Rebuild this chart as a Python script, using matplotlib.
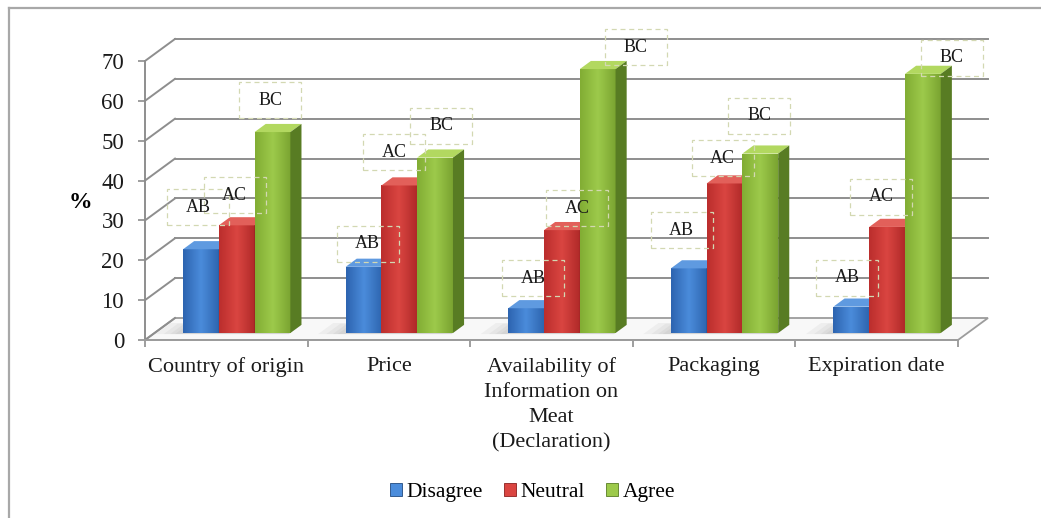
import matplotlib
matplotlib.use('Agg')
import matplotlib.pyplot as plt
from matplotlib.patches import Polygon, Rectangle, Patch
from matplotlib.lines import Line2D
from matplotlib.colors import LinearSegmentedColormap
import numpy as np

plt.rcParams['font.family'] = ['Liberation Serif', 'DejaVu Serif']

categories = ["Country of origin", "Price",
              "Availability of\nInformation on\nMeat\n(Declaration)",
              "Packaging", "Expiration date"]
series = ["Disagree", "Neutral", "Agree"]
disagree = [21.0, 16.6, 6.2, 16.2, 6.6]
neutral = [27.0, 37.0, 25.8, 37.5, 26.6]
agree = [50.4, 44.0, 66.2, 45.0, 65.0]
group_letters = ["AB", "AC", "BC"]
yticks = [0, 10, 20, 30, 40, 50, 60, 70]

# where each letter label sits relative to its bar top (pixels)
label_dx = [[-3, -2, -2], [4, -5, 6], [7, 15, 38], [-7, -2, -1], [-4, -6, 29]]
label_dy = [[42, 30, 32], [23, 33, 32], [30, 22, 22], [38, 25, 38], [29, 30, 16]]

# colours per series: front gradient (edge, middle, edge), top, side
palette = {
    "Disagree": (["#2d64b0", "#4b8cdb", "#2e66b0"], "#5f9ae0", "#21497f"),
    "Neutral": (["#bb2e2d", "#da4541", "#b02a29"], "#e2605a", "#8a1f1f"),
    "Agree": (["#82ad34", "#9dca4b", "#7aa431"], "#b2d860", "#587c23"),
}

W, H = 1041, 518
fig = plt.figure(figsize=(W / 100, H / 100), dpi=100)

# plot area in pixels; zero line sits at y=340, axis at x=145
ax_l, ax_r, ax_t, ax_b = 145, 1000, 20, 350
cat_px = 162.6   # pixels per category
val_px = 3.986   # pixels per percent
ax = fig.add_axes([ax_l / W, 1 - ax_b / H, (ax_r - ax_l) / W, (ax_b - ax_t) / H])
ax.set_xlim(0, (ax_r - ax_l) / cat_px)
ax.set_ylim(-(ax_b - 340) / val_px, (340 - ax_t) / val_px)

n = len(categories)
DX = 30 / cat_px   # depth shift of the back wall
DY = 22 / val_px
ZF, DEP = 0.32, 0.37   # bar front depth and bar thickness
BW = 0.22
grid_c = "#8e8e8e"

# floor
ax.add_patch(Polygon([(0, 0), (n, 0), (n + DX, DY), (DX, DY)], closed=True,
                     fc="#f8f8f8", ec="#9c9c9c", lw=1.3, zorder=1))

# side wall diagonals and back wall gridlines
for v in yticks:
    ax.plot([0, DX], [v, v + DY], color=grid_c, lw=1.4, zorder=1)
    if v > 0:
        ax.plot([DX, n + DX], [v + DY, v + DY], color=grid_c, lw=1.4, zorder=1)


def floor_pt(x, z):
    return (x + z * DX, z * DY)


# soft shadows on the floor, left of each group
for i in range(n):
    g0, g1 = i + 0.175, i + 0.175 + 3 * BW
    for grow in [0.14, 0.09, 0.05, 0.02]:
        pts = [floor_pt(g0 - grow - 0.02, ZF - 0.05),
               floor_pt(g1, ZF - 0.05),
               floor_pt(g1, ZF + DEP),
               floor_pt(g0 - grow - 0.02, ZF + DEP + grow * 0.6)]
        ax.add_patch(Polygon(pts, closed=True, fc="#8c8c8c", ec="none",
                             alpha=0.09, zorder=2))

values = [disagree, neutral, agree]
grad = np.linspace(0, 1, 64).reshape(1, -1)

for i in range(n):
    for j, name in enumerate(series):
        v = values[j][i]
        front_cols, top_c, side_c = palette[name]
        xl = i + 0.175 + j * BW + ZF * DX
        yb = ZF * DY
        z = 3 + i * 0.1 + j * 0.01
        cmap = LinearSegmentedColormap.from_list(name, front_cols)
        rect = Rectangle((xl, yb), BW, v, fc="none", ec="none")
        ax.add_patch(rect)
        im = ax.imshow(grad, cmap=cmap, extent=[xl, xl + BW, yb, yb + v],
                       aspect="auto", zorder=z, interpolation="bilinear")
        im.set_clip_path(rect)
        top = [(xl, yb + v), (xl + BW, yb + v),
               (xl + BW + DEP * DX, yb + v + DEP * DY),
               (xl + DEP * DX, yb + v + DEP * DY)]
        side = [(xl + BW, yb), (xl + BW + DEP * DX, yb + DEP * DY),
                (xl + BW + DEP * DX, yb + v + DEP * DY), (xl + BW, yb + v)]
        ax.add_patch(Polygon(top, closed=True, fc=top_c, ec="none", zorder=z))
        ax.add_patch(Polygon(side, closed=True, fc=side_c, ec="none", zorder=z))

        # letter label in a dashed box
        tx = xl + BW / 2 + label_dx[i][j] / cat_px
        ty = yb + v + label_dy[i][j] / val_px
        bw, bh = 62 / cat_px, 36 / val_px
        ax.add_patch(Rectangle((tx - bw / 2, ty - bh / 2), bw, bh, fc="none",
                               ec="#d3d8b2", lw=0.9, ls=(0, (4, 3)), zorder=6))
        ax.text(tx, ty, group_letters[j], ha="center", va="center",
                fontsize=13, color="#1a1a1a", zorder=7)

# front axes
for side in ["top", "right"]:
    ax.spines[side].set_visible(False)
ax.spines["left"].set_bounds(0, 70)
ax.spines["left"].set_color(grid_c)
ax.spines["left"].set_linewidth(1.4)
ax.spines["bottom"].set_position(("data", 0))
ax.spines["bottom"].set_bounds(0, n)
ax.spines["bottom"].set_color("#9c9c9c")
ax.spines["bottom"].set_linewidth(1.4)
ax.set_yticks(yticks)
ax.tick_params(axis="y", direction="out", length=5, width=1.2, color=grid_c,
               labelsize=16.5, pad=10, labelcolor="#1a1a1a")
ax.set_xticks(range(n + 1))
ax.set_xticklabels([])
ax.set_xticks([i + 0.5 for i in range(n)], minor=True)
ax.set_xticklabels(categories, minor=True, fontsize=16, color="#1a1a1a",
                   linespacing=1.45)
ax.tick_params(axis="x", which="major", direction="out", length=5, width=1.2,
               color=grid_c)
ax.tick_params(axis="x", which="minor", length=0, pad=12)

fig.text(80 / W, 1 - 203 / H, "%", fontsize=17, fontweight="bold",
         ha="center", va="center")

handles = [Patch(fc=palette[s][0][1], ec=palette[s][2], lw=0.6) for s in series]
fig.legend(handles, series, loc="center", bbox_to_anchor=(0.5115, 0.05),
           ncol=3, frameon=False, fontsize=15.5, handlelength=0.55,
           handleheight=0.55, handletextpad=0.2, columnspacing=1.0)

# chart frame
fig.add_artist(Line2D([9 / W, 1], [1 - 8 / H, 1 - 8 / H], transform=fig.transFigure,
                      color="#a8a8a8", lw=1.6))
fig.add_artist(Line2D([9 / W, 9 / W], [0, 1 - 8 / H], transform=fig.transFigure,
                      color="#a8a8a8", lw=1.6))

fig.savefig("out.png", dpi=100)
